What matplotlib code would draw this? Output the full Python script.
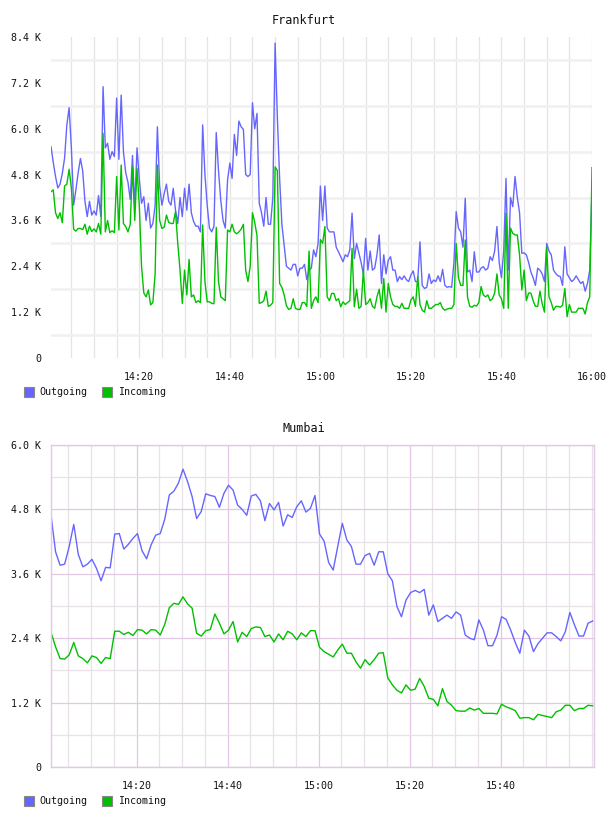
import numpy as np
import matplotlib
matplotlib.use("Agg")
import matplotlib.pyplot as plt
from matplotlib.patches import Rectangle
from matplotlib.ticker import FixedLocator, FuncFormatter

# ---- data (traffic in K, time in minutes after 14:00) ----
fra_start = 0.5   # 14:00:30, one sample every 30 s
fra_step = 0.5
fra_out = [5.53, 5.12, 4.75, 4.45, 4.55, 4.83, 5.23, 6.1, 6.55, 5.5,
           4.0, 4.4, 4.85, 5.22, 4.9, 4.1, 3.7, 4.1, 3.74, 3.85,
           3.74, 4.25, 3.7, 7.1, 5.5, 5.62, 5.2, 5.4, 5.27, 6.8,
           5.2, 6.88, 5.4, 4.85, 4.6, 4.15, 5.3, 3.96, 5.5, 4.7,
           4.05, 4.22, 3.6, 4.05, 3.4, 3.52, 4.0, 6.05, 4.5, 4.0,
           4.3, 4.55, 4.1, 4.0, 4.44, 3.87, 3.52, 4.2, 3.7, 4.44,
           3.87,
           4.55, 3.8, 3.57, 3.45, 3.45, 3.3, 6.1, 4.8, 4.0, 3.4,
           3.3, 3.45, 5.9, 4.9, 4.13, 3.6, 3.4, 4.66, 5.1, 4.7,
           5.85, 5.3, 6.2, 6.05, 5.98, 4.8, 4.75, 4.8, 6.68, 6.0,
           6.4, 4.05, 3.8, 3.45, 4.2, 3.5, 3.5, 4.2, 8.24, 6.3,
           4.7, 3.5, 2.95, 2.4, 2.35, 2.3, 2.45, 2.45, 2.15, 2.35,
           2.35, 2.45, 2.05, 2.3, 2.35, 2.83, 2.65, 3.0, 4.5, 3.6,
           4.5, 3.4, 3.3, 3.3, 3.3, 2.9, 2.78, 2.65, 2.52, 2.7,
           2.65, 2.83, 3.79, 2.6, 3.0, 2.75, 2.5, 2.2, 3.13, 2.3,
           2.8, 2.3, 2.35, 2.7, 3.22, 1.95, 2.7, 2.2, 2.56, 2.65,
           2.3, 2.3, 2.0, 2.13, 2.05, 2.15, 2.05, 2.0, 2.17, 2.28,
           2.0, 2.0, 3.04, 1.9, 1.82, 1.85, 2.2, 1.95, 2.04, 2.0,
           2.15, 2.0, 2.32, 1.9, 1.85, 1.87, 1.85, 2.5, 3.83, 3.4,
           3.3, 2.9, 4.18, 2.25, 2.3, 2.0, 2.78, 2.25, 2.25, 2.35,
           2.39, 2.3, 2.35, 2.65, 2.55, 2.8, 3.44, 2.5, 2.1, 2.8,
           4.7, 2.3, 4.2, 3.96, 4.75, 4.2, 3.8, 2.74, 2.75, 2.7,
           2.5, 2.25, 2.1, 1.9, 2.35, 2.3, 2.2, 2.0, 3.0, 2.8,
           2.7, 2.3, 2.21, 2.15, 2.13, 1.9, 2.91, 2.2, 2.1, 2.0,
           2.05, 2.15, 2.05, 1.95, 2.0, 1.75, 1.95, 2.3, 4.44]
fra_in = [4.35, 4.4, 3.8, 3.65, 3.8, 3.54, 4.5, 4.55, 4.94, 4.45,
          3.37, 3.32, 3.39, 3.39, 3.36, 3.5, 3.24, 3.45, 3.31, 3.38,
          3.3, 3.52, 3.24, 5.88, 3.3, 3.6, 3.28, 3.33, 3.28, 4.75,
          3.35, 5.05, 3.52, 3.44, 3.3, 3.5, 5.0, 3.6, 4.96, 4.0,
          2.4, 1.7, 1.6, 1.78, 1.39, 1.45, 2.2, 5.05, 3.6, 3.39,
          3.42, 3.74, 3.55, 3.52, 3.52, 3.83, 3.0, 2.3, 1.43, 2.3,
          1.65,
          2.58, 1.6, 1.65, 1.45, 1.5, 1.45, 3.48, 2.0, 1.47, 1.47,
          1.43, 1.42, 3.42, 2.0, 1.6, 1.55, 1.5, 3.35, 3.3, 3.5,
          3.3, 3.25, 3.3, 3.37, 3.5, 2.3, 2.0, 2.4, 3.8, 3.55,
          3.2, 1.43, 1.45, 1.5, 1.75, 1.35, 1.38, 1.45, 5.0, 4.9,
          1.95, 1.85, 1.65, 1.37, 1.27, 1.3, 1.55, 1.3, 1.27, 1.27,
          1.45, 1.45, 1.35, 2.8, 1.3, 1.5, 1.6, 1.45, 3.1, 3.0,
          3.44, 1.6, 1.5, 1.69, 1.69, 1.5, 1.55, 1.34, 1.47, 1.4,
          1.45, 1.5, 2.87, 1.34, 1.8, 1.3, 1.35, 2.3, 1.4, 1.45,
          1.55, 1.35, 1.3, 1.6, 1.8, 1.3, 2.08, 1.2, 1.95, 1.6,
          1.4, 1.35, 1.35, 1.3, 1.43, 1.3, 1.3, 1.3, 1.52, 1.6,
          1.35, 2.13, 1.4, 1.25, 1.2, 1.5, 1.3, 1.3, 1.35, 1.4,
          1.4, 1.45, 1.3, 1.25, 1.28, 1.3, 1.3, 1.4, 3.0, 2.1,
          1.9, 1.9, 3.09, 1.6, 1.35, 1.33, 1.38, 1.36, 1.45, 1.87,
          1.65, 1.6, 1.65, 1.5, 1.55, 1.7, 2.2, 1.65, 1.55, 1.3,
          3.79, 1.3, 3.4, 3.26, 3.22, 3.22, 2.7, 1.78, 2.3, 1.5,
          1.7, 1.7, 1.5, 1.35, 1.35, 1.75, 1.42, 1.2, 2.9, 1.6,
          1.45, 1.25, 1.35, 1.35, 1.33, 1.38, 1.82, 1.08, 1.4, 1.2,
          1.2, 1.2, 1.3, 1.3, 1.3, 1.15, 1.45, 1.6, 4.98]

mum_start = 1.2   # one sample per minute
mum_step = 1.0
mum_out = [4.70, 4.01, 3.76, 3.78, 4.11, 4.52, 3.96, 3.73, 3.78, 3.87,
           3.70, 3.47, 3.72, 3.71, 4.34, 4.35, 4.06, 4.15, 4.26, 4.35,
           4.03, 3.88, 4.14, 4.32, 4.35, 4.62, 5.07, 5.14, 5.29, 5.55,
           5.32, 5.04, 4.63, 4.76, 5.09, 5.06, 5.04, 4.84, 5.10, 5.25,
           5.16, 4.88, 4.80, 4.69, 5.05, 5.08, 4.96, 4.59, 4.91, 4.79,
           4.93, 4.49, 4.70, 4.65, 4.85, 4.96, 4.75, 4.82, 5.06, 4.34,
           4.21, 3.81, 3.67, 4.11, 4.54, 4.23, 4.11, 3.78, 3.78, 3.94,
           3.98, 3.76, 4.01, 4.01, 3.60, 3.47, 2.99, 2.80, 3.11, 3.25,
           3.29, 3.25, 3.31, 2.83, 3.02, 2.71, 2.77, 2.83, 2.77, 2.89,
           2.83, 2.46, 2.40, 2.37, 2.74, 2.55, 2.26, 2.26, 2.46, 2.80,
           2.75, 2.55, 2.32, 2.12, 2.55, 2.44, 2.15, 2.30, 2.40, 2.50,
           2.50, 2.43, 2.35, 2.52, 2.88, 2.65, 2.44, 2.44, 2.68, 2.72]
mum_in = [2.51, 2.24, 2.02, 2.01, 2.09, 2.32, 2.07, 2.02, 1.94, 2.07,
          2.04, 1.93, 2.04, 2.02, 2.53, 2.53, 2.47, 2.51, 2.45, 2.56,
          2.55, 2.48, 2.56, 2.55, 2.46, 2.66, 2.97, 3.05, 3.03, 3.17,
          3.04, 2.96, 2.49, 2.44, 2.54, 2.56, 2.85, 2.68, 2.48, 2.55,
          2.71, 2.33, 2.51, 2.43, 2.58, 2.61, 2.60, 2.43, 2.46, 2.33,
          2.48, 2.37, 2.53, 2.48, 2.37, 2.50, 2.43, 2.54, 2.54, 2.23,
          2.15, 2.10, 2.05, 2.18, 2.29, 2.12, 2.12, 1.96, 1.84, 2.00,
          1.90, 2.00, 2.12, 2.13, 1.66, 1.53, 1.43, 1.38, 1.53, 1.43,
          1.45, 1.65, 1.50, 1.28, 1.26, 1.14, 1.46, 1.22, 1.15, 1.05,
          1.04, 1.04, 1.10, 1.06, 1.09, 1.00, 1.00, 1.00, 0.99, 1.17,
          1.12, 1.09, 1.05, 0.91, 0.92, 0.92, 0.88, 0.98, 0.96, 0.94,
          0.92, 1.03, 1.06, 1.15, 1.15, 1.05, 1.09, 1.09, 1.15, 1.14]

series_names = ["Outgoing", "Incoming"]
series_colors = ["#6666ff", "#00c000"]

W, H = 608, 816
FONT = "DejaVu Sans Mono"
plt.rcParams["font.family"] = FONT


def fx(px):  # pixel -> figure fraction
    return px / W


def fy(py):
    return 1 - py / H


def time_label(m, pos=None):
    m = int(round(m))
    return "%d:%02d" % (14 + m // 60, m % 60)


def k_label(v, pos=None):
    return "0" if abs(v) < 1e-9 else "%.1f K" % v


def draw_legend(fig, py):
    xs = [(24, 39), (102, 118)]
    for (bx, tx), name, col in zip(xs, series_names, series_colors):
        fig.add_artist(Rectangle((fx(bx), fy(py + 5)), 10 / W, 10 / H,
                                 transform=fig.transFigure, facecolor=col,
                                 edgecolor="#888888", linewidth=0.8))
        fig.text(fx(tx), fy(py), name, fontsize=7.2, va="center", ha="left",
                 color="#111111")


def setup_axis(ax, ymax, xlim, major_x, grid_major, grid_minor, minor_lw):
    ax.set_xlim(*xlim)
    ax.set_ylim(0, ymax)
    ax.xaxis.set_major_locator(FixedLocator(major_x))
    ax.xaxis.set_minor_locator(FixedLocator(np.arange(5, 125, 5)))
    ax.yaxis.set_major_locator(FixedLocator(np.arange(0, ymax + 0.01, 1.2)))
    ax.yaxis.set_minor_locator(FixedLocator(np.arange(0.6, ymax, 1.2)))
    ax.xaxis.set_major_formatter(FuncFormatter(time_label))
    ax.yaxis.set_major_formatter(FuncFormatter(k_label))
    ax.tick_params(which="both", length=0, labelsize=7.2, colors="#111111")
    ax.tick_params(axis="x", pad=10)
    ax.tick_params(axis="y", pad=7)
    ax.set_axisbelow(True)
    ax.grid(True, which="minor", axis="x", color=grid_minor[0], linewidth=0.9)
    ax.grid(True, which="minor", axis="y", color=grid_minor[1], linewidth=minor_lw)
    if grid_major is not None:
        ax.grid(True, which="major", axis="both", color=grid_major, linewidth=0.9)


fig = plt.figure(figsize=(W / 100, H / 100), dpi=100)

# ---- Frankfurt ----
ax1 = fig.add_axes([fx(51), fy(358), fx(592) - fx(51), fy(37) - fy(358)])
t1 = fra_start + fra_step * np.arange(len(fra_out))
ax1.plot(t1, fra_out, color=series_colors[0], linewidth=1.0)
ax1.plot(t1, fra_in, color=series_colors[1], linewidth=1.0)
setup_axis(ax1, 8.4, (0.5, 120), [20, 40, 60, 80, 100, 120],
           None, ("#e4e4e4", "#f0f0f0"), 1.8)
ax1.grid(True, which="major", axis="x", color="#e4e4e4", linewidth=0.9)
for s in ax1.spines.values():
    s.set_visible(False)
fig.text(0.5, fy(20), "Frankfurt", ha="center", va="center", fontsize=8.5,
         color="#111111")
draw_legend(fig, 392)

# ---- Mumbai ----
ax2 = fig.add_axes([fx(51), fy(767), fx(594) - fx(51), fy(445) - fy(767)])
t2 = mum_start + mum_step * np.arange(len(mum_out))
ax2.plot(t2, mum_out, color=series_colors[0], linewidth=1.0)
ax2.plot(t2, mum_in, color=series_colors[1], linewidth=1.0)
setup_axis(ax2, 6.0, (1.2, 120.5), [20, 40, 60, 80, 100],
           "#e2c8e2", ("#e8e2e8", "#e8e2e8"), 0.9)
for s in ax2.spines.values():
    s.set_color("#e2c8e2")
    s.set_linewidth(1.0)
fig.text(0.5, fy(429), "Mumbai", ha="center", va="center", fontsize=8.5,
         color="#111111")
draw_legend(fig, 801)

fig.savefig("out.png", dpi=100)
